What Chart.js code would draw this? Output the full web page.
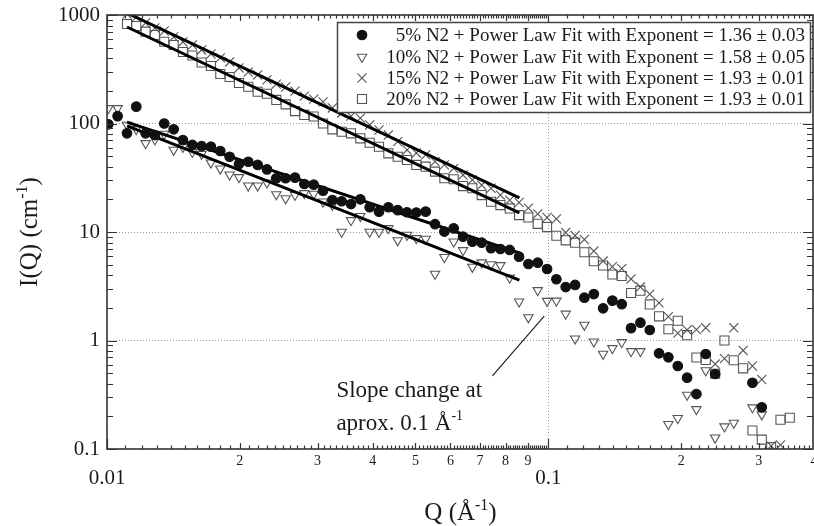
<!DOCTYPE html>
<html>
<head>
<meta charset="utf-8">
<script src="https://cdn.jsdelivr.net/npm/chart.js@4.4.1/dist/chart.umd.min.js"></script>
<style>
  html, body { margin: 0; padding: 0; background: #fff; }
</style>
</head>
<body>
<canvas id="chart" width="814" height="526"></canvas>
<script>
const FAMILY = "'Liberation Serif', 'Times New Roman', serif";

// Q grid (Å^-1) shared by all four measurements
const qGrid = [
  0.01007, 0.01057, 0.01110, 0.01165, 0.01223, 0.01284, 0.01348, 0.01416, 0.01486, 0.01561,
  0.01638, 0.01720, 0.01806, 0.01896, 0.01991, 0.02090, 0.02195, 0.02304, 0.02419, 0.02540,
  0.02667, 0.02800, 0.02940, 0.03087, 0.03241, 0.03402, 0.03572, 0.03750, 0.03937, 0.04134,
  0.04340, 0.04557, 0.04784, 0.05023, 0.05274, 0.05537, 0.05814, 0.06104, 0.06409, 0.06729,
  0.07065, 0.07417, 0.07788, 0.08176, 0.08585, 0.09013, 0.09463, 0.09935, 0.1043, 0.1095,
  0.1150, 0.1207, 0.1268, 0.1331, 0.1397, 0.1467, 0.1540, 0.1617, 0.1698, 0.1782,
  0.1871, 0.1965, 0.2063, 0.2166, 0.2274, 0.2388, 0.2507, 0.2632, 0.2763, 0.2901,
  0.3046, 0.3198, 0.3358, 0.3525
];

// I(Q) in cm^-1, null where no point is shown
const n2_5 = [
  98.3, 117, 81.2, 143, 81.2, 78.3, 100, 88.4, 70.4, 63.4,
  62.0, 61.1, 55.8, 49.4, 42.3, 44.4, 41.5, 37.8, 31.3, 31.3,
  31.7, 27.7, 27.3, 24.0, 19.7, 19.2, 18.1, 20.0, 16.9, 15.4,
  16.9, 15.9, 15.2, 15.1, 15.4, 11.8, 10.1, 10.8, 9.05, 8.14,
  7.97, 7.08, 6.97, 6.83, 5.92, 5.07, 5.21, 4.56, 3.67, 3.11,
  3.25, 2.48, 2.68, 1.98, 2.33, 2.16, 1.30, 1.46, 1.25, 0.762,
  0.700, 0.582, 0.454, 0.321, 0.751, 0.491, null, null, null, 0.408,
  0.242, null, null, null
];
const n2_10 = [
  138, 138, 96.9, 88.4, 65.7, 71.2, 80.0, 57.0, 60.7, 54.6,
  52.3, 43.5, 38.3, 33.7, 31.9, 26.7, 26.7, 28.5, 22.2, 20.4,
  21.9, 22.7, 22.4, 19.0, 17.7, 10.0, 12.8, 14.0, 10.0, 10.0,
  10.8, 8.35, 9.38, 8.75, 8.62, 4.10, 5.85, 8.14, 6.78, 4.76,
  5.23, 5.02, 4.93, 3.78, 2.28, 1.63, 2.90, 2.31, 2.32, 1.76,
  1.04, 1.39, 0.975, 0.751, 0.847, 0.963, 0.795, 0.795, null, null,
  0.169, 0.192, 0.315, 0.232, 0.529, 0.127, 0.161, 0.174, null, 0.241,
  0.208, null, null, null
];
const n2_15 = [
  null, null, 1021, 958, 844, 759, 712, 627, 564, 529,
  476, 437, 402, 369, 325, 298, 280, 252, 231, 217,
  199, 179, 168, 158, 139, 125, 117, 112, 96.9, 87.1,
  78.3, 68.0, 57.0, 53.5, 51.3, 44.5, 41.5, 38.6, 33.5, 30.2,
  27.1, 25.3, 21.9, 19.7, 18.7, 16.6, 14.7, 13.6, 13.2, 9.89,
  9.28, 8.53, 6.68, 5.40, 4.79, 4.59, 3.69, 3.11, 2.68, 2.22,
  1.66, 1.17, 1.25, 1.26, 1.31, 0.607, 0.680, 1.31, 0.809, 0.582,
  0.437, 0.107, 0.109, null
];
const n2_20 = [
  null, null, 826, 792, 702, 654, 567, 529, 456, 423,
  365, 339, 286, 268, 236, 218, 196, 188, 165, 150,
  130, 120, 116, 100, 88.4, 84.0, 81.2, 73.0, 66.5, 61.1,
  53.1, 49.4, 46.1, 41.5, 40.0, 36.0, 31.3, 30.6, 26.5, 25.3,
  21.9, 19.0, 17.7, 16.5, 14.3, 13.6, 11.9, 11.1, 9.23, 8.38,
  7.97, 6.51, 5.38, 4.91, 4.06, 3.93, 2.74, 2.88, 2.15, 1.67,
  1.27, 1.52, 1.12, 0.697, 0.661, 0.494, 1.00, 0.657, 0.554, 0.148,
  0.122, 0.104, 0.186, 0.194
];

// power law fits, end points
const fitQ = [0.0111, 0.0860];
const fit5 = [103, 6.4];
const fit10 = [95, 3.6];
const fit15 = [1043, 20.6];
const fit20 = [775, 15.0];

const legendLabels = [
  '5% N2 + Power Law Fit with Exponent = 1.36 \u00b1 0.03',
  '10% N2 + Power Law Fit with Exponent = 1.58 \u00b1 0.05',
  '15% N2 + Power Law Fit with Exponent = 1.93 \u00b1 0.01',
  '20% N2 + Power Law Fit with Exponent = 1.93 \u00b1 0.01'
];

const xTickValues = [0.01, 0.02, 0.03, 0.04, 0.05, 0.06, 0.07, 0.08, 0.09, 0.1, 0.2, 0.3, 0.4];
const xTickLabels = ['0.01', '2', '3', '4', '5', '6', '7', '8', '9', '0.1', '2', '3', '4'];
const yTickValues = [0.1, 1, 10, 100, 1000];
const yTickLabels = ['0.1', '1', '10', '100', '1000'];

// note about the slope change, in data units
const noteQ = 0.0331;
const noteI = [0.357, 0.177];
const noteLineFrom = [0.0747, 0.471];
const noteLineTo = [0.0979, 1.68];

function points(values) {
    return qGrid.map((q, i) => ({ x: q, y: values[i] })).filter(p => p.y !== null && p.y !== undefined);
}
function fitLine(values) {
    return fitQ.map((q, i) => ({ x: q, y: values[i] }));
}

const markerStyles = [
    { pointStyle: 'circle', radius: 4.8, rotation: 0, borderColor: '#111', backgroundColor: '#111' },
    { pointStyle: 'triangle', radius: 5.4, rotation: 180, borderColor: '#555', backgroundColor: 'rgba(0,0,0,0)' },
    { pointStyle: 'crossRot', radius: 6.4, rotation: 0, borderColor: '#555', backgroundColor: 'rgba(0,0,0,0)' },
    { pointStyle: 'rect', radius: 6.4, rotation: 0, borderColor: '#555', backgroundColor: 'rgba(0,0,0,0)' }
];

function markerSet(label, values, m) {
    return {
        label: label,
        data: points(values),
        showLine: false,
        pointStyle: m.pointStyle,
        pointRadius: m.radius,
        pointRotation: m.rotation,
        pointBorderColor: m.borderColor,
        pointBackgroundColor: m.backgroundColor,
        pointBorderWidth: 1.1
    };
}
function fitSet(values) {
    return {
        label: 'fit',
        data: fitLine(values),
        showLine: true,
        pointRadius: 0,
        borderColor: '#000',
        borderWidth: 3
    };
}

// text with a superscript part, e.g. Å^-1
function richText(ctx, parts, x, y, align, size) {
    const big = size + 'px ' + FAMILY;
    const small = Math.round(size * 0.62) + 'px ' + FAMILY;
    let w = 0;
    parts.forEach(p => { ctx.font = p.sup ? small : big; w += ctx.measureText(p.t).width; });
    let cx = align === 'center' ? x - w / 2 : x;
    ctx.textAlign = 'left';
    ctx.textBaseline = 'alphabetic';
    parts.forEach(p => {
        ctx.font = p.sup ? small : big;
        ctx.fillText(p.t, cx, p.sup ? y - size * 0.42 : y);
        cx += ctx.measureText(p.t).width;
    });
}

const decorPlugin = {
    id: 'decor',
    afterDraw(chart) {
        const { ctx, chartArea: a, scales: { x, y } } = chart;
        ctx.save();

        // inward ticks on all four sides
        ctx.strokeStyle = '#333';
        ctx.lineWidth = 1.2;
        ctx.beginPath();
        for (let d = -2; d <= -1; d++) {
            for (let m = 10; m < 100; m++) {
                const v = Math.pow(10, d) * m / 10;
                if (v > x.max * 1.0001) break;
                const px = Math.round(x.getPixelForValue(v)) + 0.5;
                const len = m === 10 ? 10 : (m % 10 === 0 ? 6 : 3.5);
                ctx.moveTo(px, a.bottom); ctx.lineTo(px, a.bottom - len);
                ctx.moveTo(px, a.top); ctx.lineTo(px, a.top + len);
            }
        }
        for (let d = -1; d <= 3; d++) {
            for (let m = 1; m <= 9; m++) {
                const v = m * Math.pow(10, d);
                if (v > y.max * 1.0001) break;
                const py = Math.round(y.getPixelForValue(v)) + 0.5;
                const len = m === 1 ? 10 : 6;
                ctx.moveTo(a.left, py); ctx.lineTo(a.left + len, py);
                ctx.moveTo(a.right - 1, py); ctx.lineTo(a.right - 1 - len, py);
            }
        }
        ctx.stroke();

        // plot frame
        ctx.lineWidth = 1.6;
        ctx.strokeStyle = '#333';
        ctx.strokeRect(a.left, a.top, a.right - a.left - 1, a.bottom - a.top);

        // legend
        ctx.fillStyle = '#fff';
        ctx.fillRect(337, 22, 473, 90);
        ctx.lineWidth = 1.5;
        ctx.strokeStyle = '#444';
        ctx.strokeRect(337.5, 22.5, 473, 90);
        const rows = [35, 57, 78, 99];
        legendLabels.forEach((label, i) => {
            const m = markerStyles[i];
            ctx.strokeStyle = m.borderColor;
            ctx.fillStyle = m.backgroundColor;
            ctx.lineWidth = 1.1;
            Chart.helpers.drawPoint(ctx, {
                pointStyle: m.pointStyle, radius: m.radius, rotation: m.rotation, borderWidth: 1.1
            }, 362, rows[i]);
            ctx.fillStyle = '#1a1a1a';
            ctx.font = '19px ' + FAMILY;
            ctx.textAlign = 'right';
            ctx.textBaseline = 'middle';
            ctx.fillText(label, 805, rows[i] + 1);
        });

        // slope change note
        ctx.strokeStyle = '#222';
        ctx.lineWidth = 1.2;
        ctx.beginPath();
        ctx.moveTo(x.getPixelForValue(noteLineFrom[0]), y.getPixelForValue(noteLineFrom[1]));
        ctx.lineTo(x.getPixelForValue(noteLineTo[0]), y.getPixelForValue(noteLineTo[1]));
        ctx.stroke();
        ctx.fillStyle = '#1a1a1a';
        const nx = x.getPixelForValue(noteQ);
        richText(ctx, [{ t: 'Slope change at' }], nx, y.getPixelForValue(noteI[0]) + 8, 'left', 23);
        richText(ctx, [{ t: 'aprox. 0.1 \u00c5' }, { t: '-1', sup: true }], nx, y.getPixelForValue(noteI[1]) + 8, 'left', 23);

        // axis titles
        richText(ctx, [{ t: 'Q (\u00c5' }, { t: '-1', sup: true }, { t: ')' }], (a.left + a.right) / 2, 520, 'center', 25);
        ctx.save();
        ctx.translate(37, (a.top + a.bottom) / 2);
        ctx.rotate(-Math.PI / 2);
        richText(ctx, [{ t: 'I(Q) (cm' }, { t: '-1', sup: true }, { t: ')' }], 0, 0, 'center', 25);
        ctx.restore();

        ctx.restore();
    }
};

const isMajorX = v => v === 0.01 || v === 0.1;

new Chart(document.getElementById('chart').getContext('2d'), {
    type: 'scatter',
    data: {
        datasets: [
            markerSet(legendLabels[0], n2_5, markerStyles[0]),
            fitSet(fit5),
            fitSet(fit10),
            fitSet(fit15),
            fitSet(fit20),
            markerSet(legendLabels[1], n2_10, markerStyles[1]),
            markerSet(legendLabels[2], n2_15, markerStyles[2]),
            markerSet(legendLabels[3], n2_20, markerStyles[3])
        ]
    },
    options: {
        responsive: false,
        animation: false,
        events: [],
        // no auto padding for the markers: the plot runs to the right edge
        layout: { autoPadding: false, padding: { top: 15, right: 0, left: 0, bottom: 0 } },
        plugins: {
            legend: { display: false },
            tooltip: { enabled: false }
        },
        scales: {
            x: {
                type: 'logarithmic',
                min: 0.01,
                max: 0.4,
                afterBuildTicks: s => { s.ticks = xTickValues.map(v => ({ value: v })); },
                afterFit: s => { s.height = 77; s.paddingLeft = 0; s.paddingRight = 0; },
                grid: {
                    drawTicks: false,
                    lineWidth: 1,
                    color: c => (c.tick && c.tick.value === 0.1) ? '#9c9c9c' : 'rgba(0,0,0,0)'
                },
                border: { display: false, dash: [1, 2] },
                ticks: {
                    autoSkip: false,
                    maxRotation: 0,
                    padding: 4,
                    color: '#1a1a1a',
                    callback: (v, i) => isMajorX(xTickValues[i]) ? ['', xTickLabels[i]] : xTickLabels[i],
                    font: c => (c.tick && isMajorX(c.tick.value))
                        ? { family: FAMILY, size: 21, lineHeight: 0.8 }
                        : { family: FAMILY, size: 14 }
                }
            },
            y: {
                type: 'logarithmic',
                min: 0.1,
                max: 1000,
                afterBuildTicks: s => { s.ticks = yTickValues.map(v => ({ value: v })); },
                afterFit: s => { s.width = 107; s.paddingTop = 0; s.paddingBottom = 0; },
                grid: {
                    drawTicks: false,
                    lineWidth: 1,
                    color: c => (c.tick && (c.tick.value === 1 || c.tick.value === 10 || c.tick.value === 100)) ? '#9c9c9c' : 'rgba(0,0,0,0)'
                },
                border: { display: false, dash: [1, 2] },
                ticks: {
                    autoSkip: false,
                    padding: 7,
                    color: '#1a1a1a',
                    callback: (v, i) => yTickLabels[i],
                    font: { family: FAMILY, size: 21 }
                }
            }
        }
    },
    plugins: [decorPlugin]
});
</script>
</body>
</html>
